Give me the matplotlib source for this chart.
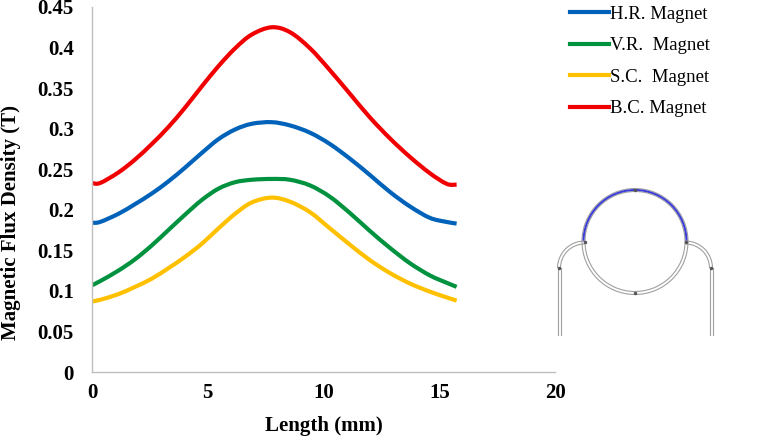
import matplotlib
matplotlib.use("Agg")
import matplotlib.pyplot as plt
from matplotlib.patches import Arc, PathPatch
from matplotlib.path import Path
from matplotlib.lines import Line2D
import numpy as np

# ---- data ----
x_up = [0.0, 0.35, 1.14, 1.86, 2.58, 3.30, 4.02, 4.74, 5.46, 6.18, 6.90, 7.76]
x_dn = [8.55, 9.42, 10.28, 11.14, 12.00, 12.87, 13.74, 14.60, 15.32, 15.75]
length_mm = x_up + x_dn

hr_magnet = [0.184, 0.185, 0.195, 0.207, 0.220, 0.235, 0.252, 0.270, 0.287, 0.299, 0.306, 0.308,
             0.304, 0.295, 0.281, 0.263, 0.243, 0.222, 0.204, 0.190, 0.185, 0.183]
vr_magnet = [0.107, 0.112, 0.125, 0.139, 0.156, 0.175, 0.194, 0.212, 0.226, 0.234, 0.237, 0.238,
             0.237, 0.230, 0.216, 0.196, 0.174, 0.153, 0.134, 0.119, 0.110, 0.105]
sc_magnet = [0.087, 0.089, 0.096, 0.105, 0.115, 0.128, 0.142, 0.158, 0.177, 0.195, 0.209, 0.215,
             0.210, 0.197, 0.177, 0.157, 0.138, 0.122, 0.109, 0.099, 0.092, 0.088]
bc_magnet = [0.233, 0.233, 0.246, 0.262, 0.281, 0.302, 0.326, 0.352, 0.377, 0.399, 0.416, 0.425,
             0.419, 0.399, 0.372, 0.343, 0.314, 0.288, 0.265, 0.245, 0.232, 0.231]

series_labels = ["H.R. Magnet", "V.R.  Magnet", "S.C.  Magnet", "B.C. Magnet"]
series_colors = ["#0062B8", "#00923F", "#FFC000", "#F00000"]
x_ticks = [0, 5, 10, 15, 20]
y_ticks = [0, 0.05, 0.1, 0.15, 0.2, 0.25, 0.3, 0.35, 0.4, 0.45]
y_tick_labels = ["0", "0.05", "0.1", "0.15", "0.2", "0.25", "0.3", "0.35", "0.4", "0.45"]


def smooth_path(xs, ys):
    """Excel-style smoothed line: cubic Bezier segments through the data points."""
    p = np.column_stack([xs, ys]).astype(float)
    n = len(p)
    verts = [p[0]]
    codes = [Path.MOVETO]
    for i in range(n - 1):
        p0 = p[i - 1] if i > 0 else p[i]
        p1, p2 = p[i], p[i + 1]
        p3 = p[i + 2] if i + 2 < n else p[i + 1]
        c1 = p1 + (p2 - p0) / 6.0
        c2 = p2 - (p3 - p1) / 6.0
        verts += [c1, c2, p2]
        codes += [Path.CURVE4] * 3
    return Path(verts, codes)


W, H = 757, 437
fig = plt.figure(figsize=(W / 100, H / 100), dpi=100)
serif = ["Liberation Serif", "DejaVu Serif"]

ax = fig.add_axes([92 / W, 1 - 372 / H, (555 - 92) / W, (372 - 7) / H])
handles = []
for vals, lab, col in zip([hr_magnet, vr_magnet, sc_magnet, bc_magnet], series_labels, series_colors):
    ax.add_patch(PathPatch(smooth_path(length_mm, vals), facecolor="none", edgecolor=col,
                           lw=3.0, joinstyle="round", capstyle="butt"))
    handles.append(Line2D([], [], color=col, lw=3.0, label=lab))

ax.set_xlim(0, 20)
ax.set_ylim(0, 0.45)
ax.set_xticks(x_ticks)
ax.set_yticks(y_ticks)
ax.set_yticklabels(y_tick_labels)
for s in ["top", "right"]:
    ax.spines[s].set_visible(False)
for s in ["left", "bottom"]:
    ax.spines[s].set_color("#BFBFBF")
    ax.spines[s].set_linewidth(1.0)
ax.tick_params(axis="both", length=0)
ax.tick_params(axis="y", pad=13)
ax.tick_params(axis="x", pad=8)
for t in ax.get_xticklabels() + ax.get_yticklabels():
    t.set_fontfamily(serif)
    t.set_fontweight("bold")
    t.set_fontsize(15)
ax.set_xlabel("Length (mm)", fontfamily=serif, fontweight="bold", fontsize=15, labelpad=9)
ax.set_ylabel("Magnetic Flux Density (T)", fontfamily=serif, fontweight="bold", fontsize=15)
ax.yaxis.set_label_coords(-0.154, 0.41)

leg = fig.legend(handles=handles, loc="upper left", bbox_to_anchor=(562 / W, 1 + 2 / H), frameon=False,
                 prop={"family": serif, "size": 13.5}, handlelength=2.1, handletextpad=0.05,
                 labelspacing=0.77, borderaxespad=0)

# ---- inset pipe sketch (decoration) ----
ov = fig.add_axes([0, 0, 1, 1], zorder=-1)
ov.set_xlim(0, W)
ov.set_ylim(H, 0)
ov.axis("off")
gray = "#A0A0A0"
cx, cy = 635, 241.5
for r in (50, 53):
    ov.add_patch(Arc((cx, cy), 2 * r, 2 * r, theta1=0, theta2=360, color=gray, lw=0.8))
ov.add_patch(Arc((cx, cy), 103, 103, theta1=180, theta2=360, color="#3A3AD8", lw=1.4))
# side bends
for sx, sgn in ((584.5, -1), (685.5, 1)):
    bx = sx
    for rr in (24, 27):
        if sgn < 0:
            ov.add_patch(Arc((bx, 268), 2 * rr, 2 * rr, theta1=180, theta2=270, color=gray, lw=0.8))
        else:
            ov.add_patch(Arc((bx, 268), 2 * rr, 2 * rr, theta1=270, theta2=360, color=gray, lw=0.8))
        ov.plot([bx + sgn * rr, bx + sgn * rr], [268, 335], color=gray, lw=0.8)
for px, py in ((cx, cy - 51.5), (cx, cy + 51.5), (584.5 - 25.5, 268), (685.5 + 25.5, 268),
               (584.5, 241.5), (685.5, 241.5)):
    ov.plot([px], [py], marker="o", ms=1.5, color="#555555")

fig.savefig("out.png", dpi=100)
